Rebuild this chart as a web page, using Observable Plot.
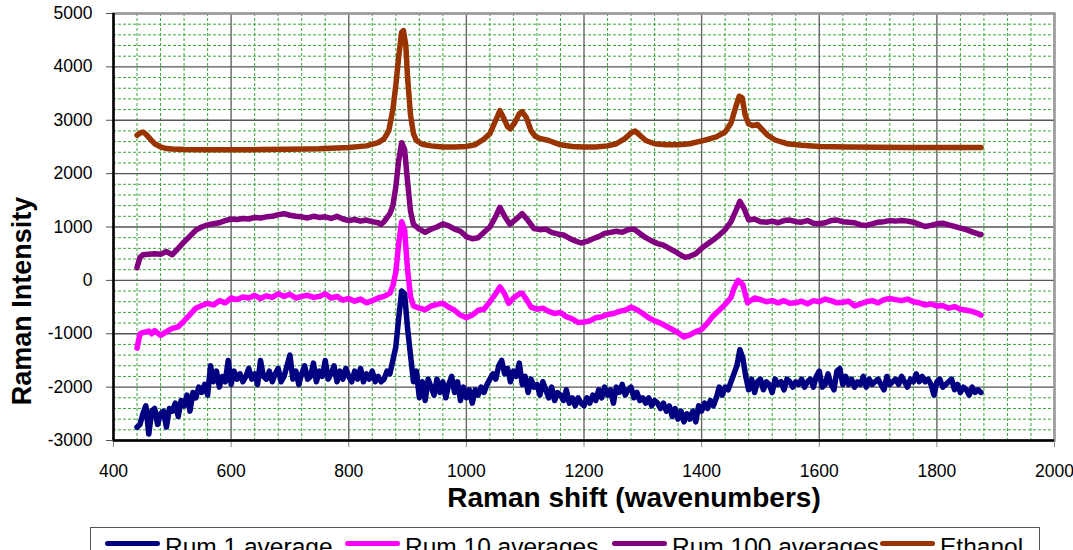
<!DOCTYPE html>
<html>
<head>
<meta charset="utf-8">
<script src="https://cdn.jsdelivr.net/npm/d3@7"></script>
<script src="https://cdn.jsdelivr.net/npm/@observablehq/plot@0.6"></script>
<style>
  html, body { margin: 0; padding: 0; background: #fff; overflow: hidden; }
  body { width: 1073px; height: 550px; font-family: "Liberation Sans", Arial, sans-serif; }
  #chart svg { display: block; font-family: "Liberation Sans", Arial, sans-serif; }
  #legend {
    position: absolute; left: 90px; top: 527px; width: 950px; height: 40px;
    border: 1px solid #555; box-sizing: border-box; background: #fff;
  }
  .item { position: absolute; top: 0; height: 30px; display: flex; align-items: center; }
  .sw { width: 55px; height: 5px; border-radius: 3px; margin-right: 5px; }
  .lab { font-size: 24.5px; color: #000; line-height: 30px; position: relative; top: 4px; white-space: nowrap; }
</style>
</head>
<body>
<div id="chart"></div>
<div id="legend"></div>
<script>
// ---- Data ----
const seriesNames = ["Rum 1 average", "Rum 10 averages", "Rum 100 averages", "Ethanol"];
const seriesColors = ["#000080", "#ff00ff", "#800080", "#993300"];

const xTicks = [400, 600, 800, 1000, 1200, 1400, 1600, 1800, 2000];
const yTicks = [-3000, -2000, -1000, 0, 1000, 2000, 3000, 4000, 5000];

// Rum 1 average: regularly sampled, start 440 cm-1, step 5 cm-1
const rum1Start = 440, rum1Step = 5;
const rum1Values = [
-2750,-2700,-2500,-2350,-2880,-2450,-2400,-2700,-2500,-2450,-2750,-2400,-2450,-2300,-2550,-2250,-2350,-2150,-2450,-2100,
-2200,-2000,-2100,-1950,-2150,-1600,-1900,-1700,-2000,-1800,-1900,-1500,-1950,-1700,-1850,-1750,-1900,-1800,-1650,-1850,
-1750,-1950,-1500,-1800,-1850,-1700,-1900,-1750,-1650,-1900,-1800,-1600,-1400,-1850,-1700,-1950,-1750,-1600,-1850,-1800,
-1550,-1900,-1700,-1800,-1500,-1850,-1750,-1600,-1900,-1700,-1850,-1650,-1800,-1900,-1700,-1850,-1650,-1900,-1750,-1850,
-1700,-1900,-1800,-1900,-1850,-1700,-1750,-1500,-1250,-700,-200,-250,-900,-1400,-1900,-1700,-2200,-1900,-2250,-1850,
-2000,-2150,-1850,-2100,-1900,-2200,-1950,-1800,-2100,-1900,-2250,-2000,-2200,-2050,-2300,-2050,-2150,-2000,-2100,-1950,
-1850,-1750,-1850,-1600,-1500,-1750,-1650,-1900,-1700,-1800,-1550,-1950,-1800,-2100,-1850,-2000,-1950,-2150,-1900,-2050,
-2200,-2000,-2250,-2100,-2150,-2250,-2050,-2300,-2200,-2350,-2200,-2300,-2350,-2200,-2300,-2150,-2250,-2050,-2200,-2000,
-2150,-2050,-2300,-2000,-2100,-1950,-2150,-2050,-2000,-2200,-2100,-2250,-2200,-2300,-2200,-2350,-2250,-2300,-2400,-2300,
-2450,-2350,-2550,-2400,-2600,-2450,-2650,-2500,-2600,-2450,-2650,-2350,-2450,-2300,-2400,-2250,-2350,-2200,-2000,-2150,
-2000,-2050,-1900,-1750,-1600,-1300,-1450,-1800,-2050,-1850,-2100,-1900,-1850,-2050,-1900,-1950,-2100,-1850,-1950,-1900,
-2050,-1850,-1900,-2000,-1900,-1950,-1850,-2000,-1900,-1850,-2000,-1800,-1700,-2000,-1950,-1750,-1950,-2050,-1700,-1650,
-1950,-1800,-1950,-1850,-2000,-1900,-1950,-1800,-2000,-1850,-1950,-1900,-1850,-1950,-2050,-1800,-1950,-1900,-1850,-1950,
-1800,-1900,-2000,-1850,-1900,-1750,-1900,-1800,-1900,-1850,-1950,-2150,-1900,-1850,-2000,-1950,-1900,-1850,-2050,-1950,
-2100,-2000,-2050,-2150,-2000,-2100,-2050,-2100
];

// Rum 10 averages: [wavenumber, intensity]
const rum10 = [
[440,-1270],[445,-1000],[450,-980],[460,-950],[465,-1000],[470,-940],[480,-1030],[490,-960],[500,-900],[510,-870],
[520,-760],[530,-640],[540,-520],[550,-470],[560,-430],[570,-460],[580,-380],[590,-420],[600,-330],[610,-360],
[620,-310],[630,-330],[640,-280],[650,-340],[660,-290],[670,-320],[680,-250],[690,-300],[700,-260],[710,-330],
[720,-300],[730,-280],[740,-320],[750,-300],[760,-250],[770,-330],[780,-300],[790,-370],[800,-340],[810,-390],
[820,-350],[830,-420],[840,-380],[850,-330],[860,-300],[870,-240],[875,-100],[880,150],[885,700],[890,1100],
[895,950],[900,200],[905,-300],[910,-480],[920,-520],[930,-550],[940,-480],[950,-450],[960,-430],[970,-500],
[980,-560],[990,-650],[1000,-700],[1010,-650],[1020,-560],[1030,-540],[1040,-400],[1050,-250],[1057,-120],[1065,-250],
[1072,-430],[1080,-330],[1090,-250],[1095,-240],[1100,-320],[1110,-500],[1120,-540],[1130,-520],[1140,-580],[1150,-620],
[1160,-600],[1170,-680],[1180,-720],[1190,-790],[1200,-780],[1210,-760],[1220,-700],[1230,-680],[1240,-640],[1250,-620],
[1260,-580],[1270,-560],[1280,-500],[1290,-550],[1300,-620],[1310,-700],[1320,-760],[1330,-800],[1340,-860],[1350,-920],
[1360,-980],[1370,-1060],[1380,-1020],[1390,-960],[1400,-920],[1410,-800],[1420,-660],[1430,-560],[1440,-450],[1450,-320],
[1455,-150],[1462,0],[1470,-80],[1478,-420],[1490,-330],[1500,-360],[1510,-400],[1520,-380],[1530,-420],[1540,-380],
[1550,-430],[1560,-420],[1570,-390],[1580,-440],[1590,-380],[1600,-400],[1610,-350],[1620,-380],[1630,-420],[1640,-410],
[1650,-390],[1660,-480],[1670,-440],[1680,-400],[1690,-380],[1700,-420],[1710,-360],[1720,-340],[1730,-360],[1740,-380],
[1750,-350],[1760,-400],[1770,-420],[1780,-460],[1790,-440],[1800,-480],[1810,-470],[1820,-520],[1830,-490],[1840,-540],
[1850,-560],[1860,-580],[1870,-620],[1875,-650]
];

// Rum 100 averages: [wavenumber, intensity]
const rum100 = [
[440,240],[445,430],[450,480],[460,490],[470,500],[480,490],[490,540],[500,480],[510,600],[520,720],
[530,830],[540,940],[550,1000],[560,1040],[570,1060],[580,1080],[590,1120],[600,1150],[610,1140],[620,1160],
[630,1150],[640,1180],[650,1170],[660,1190],[670,1200],[680,1230],[690,1250],[700,1220],[710,1200],[720,1190],
[730,1170],[740,1200],[750,1180],[760,1190],[770,1160],[780,1200],[790,1150],[800,1120],[810,1140],[820,1110],
[830,1130],[840,1100],[850,1080],[855,1050],[860,1100],[870,1250],[875,1400],[880,1750],[885,2250],[890,2580],
[895,2450],[900,1850],[905,1300],[910,1050],[920,960],[930,900],[940,960],[950,1000],[960,1060],[970,1020],
[980,960],[990,920],[1000,820],[1010,780],[1020,800],[1030,900],[1040,1000],[1050,1200],[1057,1370],[1065,1200],
[1074,1050],[1085,1150],[1095,1250],[1105,1120],[1115,970],[1125,950],[1135,960],[1145,900],[1155,870],[1165,850],
[1175,790],[1185,740],[1195,700],[1205,730],[1215,780],[1225,820],[1235,880],[1245,900],[1255,920],[1265,900],
[1275,950],[1285,960],[1295,880],[1305,800],[1315,740],[1325,690],[1335,660],[1345,600],[1355,540],[1365,470],
[1372,430],[1380,450],[1390,500],[1400,600],[1410,680],[1420,760],[1430,850],[1440,950],[1450,1100],[1458,1300],
[1465,1480],[1472,1350],[1480,1130],[1490,1150],[1500,1100],[1510,1090],[1520,1110],[1530,1080],[1540,1120],[1550,1130],
[1560,1100],[1570,1090],[1580,1120],[1590,1070],[1600,1060],[1610,1080],[1620,1120],[1630,1130],[1640,1100],[1650,1090],
[1660,1080],[1670,1040],[1680,1030],[1690,1060],[1700,1090],[1710,1100],[1720,1120],[1730,1110],[1740,1120],[1750,1110],
[1760,1090],[1770,1050],[1780,1010],[1790,1030],[1800,1060],[1810,1070],[1820,1040],[1830,1010],[1840,980],[1850,950],
[1860,910],[1870,870],[1875,860]
];

// Ethanol: [wavenumber, intensity]
const ethanol = [
[440,2720],[445,2760],[450,2780],[455,2740],[460,2680],[465,2620],[470,2560],[480,2500],[490,2470],[500,2460],
[520,2450],[560,2445],[600,2445],[650,2450],[700,2455],[750,2465],[800,2490],[830,2520],[850,2580],[860,2650],
[868,2800],[875,3200],[880,3650],[885,4200],[890,4650],[893,4680],[897,4400],[900,3800],[905,3100],[910,2750],
[915,2620],[925,2550],[940,2520],[960,2500],[980,2500],[1000,2510],[1015,2540],[1030,2650],[1040,2750],[1050,3000],
[1057,3180],[1063,3050],[1070,2880],[1075,2840],[1082,2950],[1090,3120],[1095,3160],[1102,3050],[1110,2800],[1117,2700],
[1125,2660],[1140,2620],[1160,2540],[1180,2510],[1200,2500],[1220,2500],[1240,2520],[1255,2560],[1270,2660],[1280,2760],
[1287,2800],[1295,2720],[1305,2620],[1320,2560],[1340,2540],[1360,2540],[1380,2560],[1395,2600],[1410,2640],[1425,2690],
[1440,2780],[1450,2950],[1458,3250],[1464,3450],[1469,3420],[1474,3100],[1480,2930],[1487,2900],[1495,2920],[1502,2840],
[1512,2720],[1525,2630],[1545,2560],[1570,2530],[1600,2510],[1650,2500],[1700,2495],[1750,2490],[1800,2490],[1850,2490],
[1875,2490]
];

// ---- Build tables ----
const rum1 = rum1Values.map((v, i) => [rum1Start + i * rum1Step, v]);
const seriesData = [rum1, rum10, rum100, ethanol];
const rows = [];
seriesData.forEach((arr, s) => arr.forEach(([x, y]) => rows.push({x, y, series: seriesNames[s]})));

const minorX = d3.range(400, 2001, 40).filter(v => v % 200 !== 0);
const minorY = d3.range(-3000, 5001, 200).filter(v => v % 1000 !== 0);

const drawOrder = [3, 2, 1, 0];

const chart = Plot.plot({
  width: 1073,
  height: 524,
  marginLeft: 113,
  marginRight: 19,
  marginTop: 13,
  marginBottom: 84,
  style: {fontFamily: "'Liberation Sans', Arial, sans-serif", background: "#fff", color: "#000"},
  x: {domain: [400, 2000]},
  y: {domain: [-3000, 5000]},
  color: {domain: seriesNames, range: seriesColors},
  marks: [
    Plot.ruleX(minorX, {stroke: "#3aa53a", strokeWidth: 1, strokeDasharray: "3,2"}),
    Plot.ruleY(minorY, {stroke: "#3aa53a", strokeWidth: 1, strokeDasharray: "3,2"}),
    Plot.ruleX(xTicks, {stroke: "#666", strokeWidth: 1.4}),
    Plot.ruleY(yTicks, {stroke: "#555", strokeWidth: 1.4}),
    Plot.frame({stroke: "#999", strokeWidth: 2.5}),
    Plot.axisX({ticks: xTicks, tickSize: 7, tickPadding: 17, fontSize: 17.5, stroke: "#888", tickFormat: d => String(d), label: null}),
    Plot.axisY({ticks: yTicks, tickSize: 7, tickPadding: 14, fontSize: 17.5, stroke: "#555", tickFormat: d => String(d), label: null}),
    Plot.ruleX([400], {stroke: "#000", strokeWidth: 2.5}),
    Plot.ruleY([-3000], {stroke: "#000", strokeWidth: 2.5}),
    ...drawOrder.map(s => Plot.line(rows.filter(r => r.series === seriesNames[s]), {
      x: "x", y: "y", stroke: "series", strokeWidth: 5.5,
      strokeLinejoin: "round", strokeLinecap: "round"
    })),
    Plot.text(["Raman shift (wavenumbers)"], {frameAnchor: "bottom", textAnchor: "middle", lineAnchor: "middle", dx: 50, dy: 58, fontSize: 28, fontWeight: "bold", fill: "#000"}),
    Plot.text(["Raman Intensity"], {frameAnchor: "left", textAnchor: "middle", lineAnchor: "middle", rotate: -90, dx: -91, dy: 74, fontSize: 27, fontWeight: "bold", fill: "#000"})
  ]
});
document.getElementById("chart").appendChild(chart);

// ---- Legend ----
const legend = document.getElementById("legend");
const itemLeft = [14, 254, 521, 789];
seriesNames.forEach((name, i) => {
  const it = document.createElement("div");
  it.className = "item";
  it.style.left = itemLeft[i] + "px";
  it.innerHTML = `<div class="sw" style="background:${seriesColors[i]}"></div><span class="lab">${name}</span>`;
  legend.appendChild(it);
});
</script>
</body>
</html>
